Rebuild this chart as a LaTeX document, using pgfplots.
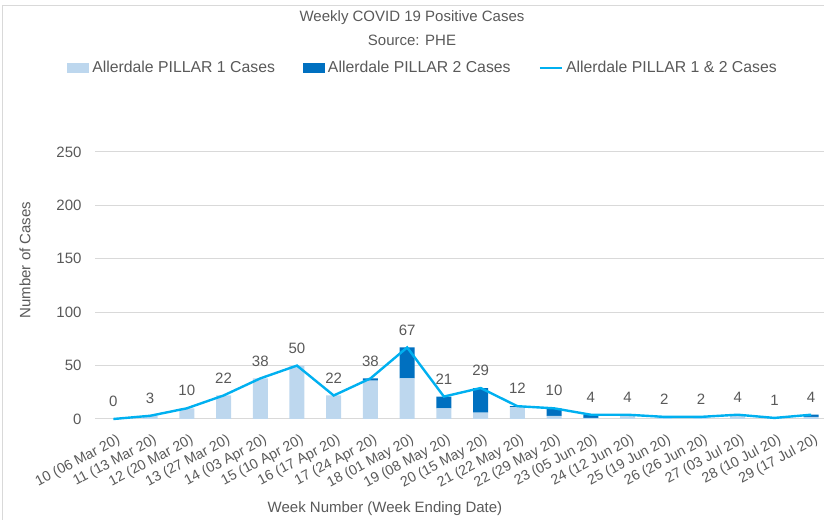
\documentclass[border=0pt]{standalone}
\usepackage{pgfplots}
\pgfplotsset{compat=1.18}
\usepackage{fontspec}
\setmainfont{Liberation Sans}
\definecolor{pone}{HTML}{BDD7EE}
\definecolor{ptwo}{HTML}{0070C0}
\definecolor{pline}{HTML}{00B0F0}
\definecolor{txt}{HTML}{595959}
\definecolor{grd}{HTML}{D9D9D9}
\newcommand{\fs}{\fontsize{15bp}{18bp}\selectfont}
\newcommand{\fl}{\fontsize{15.8bp}{18bp}\selectfont}
\newcommand{\fx}{\fontsize{14.2bp}{16bp}\selectfont}
\begin{document}
\begin{tikzpicture}[x=1bp,y=1bp]
\useasboundingbox (0,0) rectangle (824,520);
\draw[grd,line width=1bp] (2.5,-5) -- (2.5,514.5) -- (830,514.5);
\pgfplotsset{
  common/.style={
    at={(95bp,101bp)}, anchor=south west,
    scale only axis, width=729bp, height=267bp,
    xmin=-0.5, xmax=19.35, ymin=0, ymax=250,
    /pgf/number format/assume math mode=true,
  }
}
\begin{axis}[common,
  ybar stacked, bar width=15bp,
  axis line style={draw=none},
  major tick length=0pt,
  ytick={0,50,100,150,200,250},
  ymajorgrids, grid style={grd,line width=1bp},
  xtick={0,...,19},
  xticklabels={10 (06 Mar 20),11 (13 Mar 20),12 (20 Mar 20),13 (27 Mar 20),14 (03 Apr 20),15 (10 Apr 20),16 (17 Apr 20),17 (24 Apr 20),18 (01 May 20),19 (08 May 20),20 (15 May 20),21 (22 May 20),22 (29 May 20),23 (05 Jun 20),24 (12 Jun 20),25 (19 Jun 20),26 (26 Jun 20),27 (03 Jul 20),28 (10 Jul 20),29 (17 Jul 20)},
  xticklabel style={xshift=3bp, yshift=-13bp, rotate=28, anchor=north east, font=\fx, text=txt, inner sep=1bp},
  yticklabel style={font=\fs, text=txt, xshift=-10bp},
  legend columns=3,
  legend style={at={(rel axis cs:0.45,1.315)}, anchor=center, draw=none, fill=none, font=\fl, text=txt,
    /tikz/every odd column/.append style={column sep=1bp},
    /tikz/every even column/.append style={column sep=26bp}},
  legend image code/.code={\fill[#1] (0bp,-5bp) rectangle (22bp,5bp);},
]
\addplot[fill=pone, draw=none] coordinates {(0,0) (1,3) (2,10) (3,22) (4,38) (5,50) (6,22) (7,36) (8,38) (9,10) (10,6) (11,11) (12,3) (13,1) (14,4) (15,2) (16,2) (17,4) (18,1) (19,2)};
\addlegendentry{Allerdale PILLAR 1 Cases}
\addplot[fill=ptwo, draw=none] coordinates {(0,0) (1,0) (2,0) (3,0) (4,0) (5,0) (6,0) (7,2) (8,29) (9,11) (10,23) (11,1) (12,7) (13,3) (14,0) (15,0) (16,0) (17,0) (18,0) (19,2)};
\addlegendentry{Allerdale PILLAR 2 Cases}
\addlegendimage{legend image code/.code={\draw[pline, line width=2.4bp] (0bp,0bp) -- (22bp,0bp);}}
\addlegendentry{Allerdale PILLAR 1 \& 2 Cases}
\end{axis}
\begin{axis}[common, hide axis, clip=false,
  nodes near coords,
  every node near coord/.append style={font=\fs, text=txt, anchor=south, inner sep=0pt, yshift=11bp},
]
\addplot[pline, line width=2.4bp, mark=none] coordinates {(0,0) (1,3) (2,10) (3,22) (4,38) (5,50) (6,22) (7,38) (8,67) (9,21) (10,29) (11,12) (12,10) (13,4) (14,4) (15,2) (16,2) (17,4) (18,1) (19,4)};
\end{axis}
\node[font=\fs, text=txt, inner sep=0pt] at (412,502) {Weekly COVID 19 Positive Cases};
\node[font=\fs, text=txt, inner sep=0pt] at (412,480) {Source: PHE};
\node[font=\fs, text=txt, rotate=90, inner sep=0pt] at (25,260) {Number of Cases};
\node[font=\fs, text=txt, inner sep=0pt] at (385,11) {Week Number (Week Ending Date)};
\end{tikzpicture}
\end{document}
